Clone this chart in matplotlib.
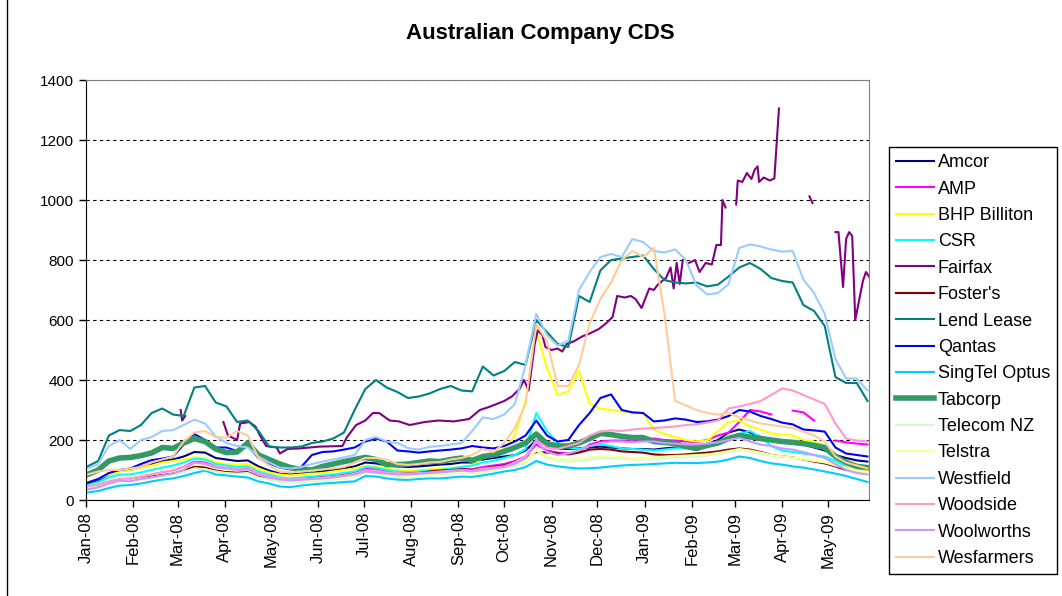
import numpy as np
import pandas as pd
import matplotlib
matplotlib.use("Agg")
import matplotlib.pyplot as plt
import matplotlib.dates as mdates
from matplotlib.lines import Line2D

plt.rcParams["font.family"] = ["Liberation Sans", "DejaVu Sans"]

nan = np.nan

# =========================
# DATA (weekly readings, bp)
# =========================
dates = pd.date_range("2008-01-02", periods=74, freq="7D")

amcor = [55, 65, 85, 98, 100, 110, 120, 130, 135, 145,
         160, 158, 140, 135, 130, 132, 112, 98, 88, 85,
         88, 92, 95, 100, 105, 112, 125, 122, 115, 112,
         110, 112, 115, 118, 120, 125, 125, 135, 140, 145,
         150, 165, 200, 180, 172, 170, 172, 175, 178, 175,
         172, 170, 170, 168, 172, 175, 178, 180, 185, 200,
         225, 235, 225, 210, 200, 195, 190, 185, 175, 165,
         150, 140, 132, 128]

amp = [40, 48, 58, 68, 70, 78, 85, 92, 98, 110,
       128, 125, 112, 105, 102, 105, 88, 78, 70, 68,
       70, 73, 77, 80, 85, 90, 105, 102, 95, 92,
       90, 92, 95, 97, 100, 105, 102, 110, 115, 120,
       130, 145, 185, 165, 158, 155, 160, 185, 195, 198,
       198, 195, 200, 205, 200, 198, 195, 193, 200, 215,
       225, 260, 300, 295, 285, nan, 298, 292, 265, nan,
       198, 192, 188, 185]

bhp = [60, 70, 85, 95, 100, 108, 115, 125, 130, 135,
       142, 140, 125, 120, 118, 120, 105, 92, 85, 82,
       85, 88, 90, 95, 100, 105, 115, 112, 105, 100,
       98, 100, 102, 105, 108, 110, 115, 140, 160, 170,
       215, 330, 565, 440, 350, 362, 430, 320, 305, 300,
       295, 292, 290, 235, 220, 210, 200, 195, 198, 230,
       260, 265, 245, 235, 222, 218, 215, 200, 195, 180,
       140, 120, 105, 100]

csr = [50, 60, 75, 85, 85, 92, 100, 108, 115, 125,
       138, 135, 120, 115, 110, 112, 95, 85, 75, 72,
       75, 78, 82, 85, 90, 95, 110, 108, 100, 95,
       92, 95, 98, 100, 105, 110, 115, 125, 130, 140,
       150, 170, 290, 230, 190, 175, 170, 180, 185, 180,
       172, 170, 168, 165, 168, 172, 175, 178, 180, 190,
       205, 220, 230, 210, 180, 165, 160, 155, 150, 145,
       130, 110, 95, 90]

fosters = [45, 50, 60, 68, 70, 75, 80, 85, 90, 100,
           112, 110, 100, 95, 92, 95, 80, 72, 68, 66,
           68, 72, 75, 78, 82, 88, 98, 95, 90, 88,
           88, 90, 95, 98, 100, 102, 100, 105, 110, 115,
           125, 140, 160, 158, 155, 152, 158, 168, 170, 168,
           162, 160, 158, 152, 150, 150, 152, 155, 158, 162,
           168, 172, 168, 160, 150, 145, 142, 135, 128, 122,
           112, 100, nan, nan]

lend_lease = [112, 130, 215, 233, 230, 250, 290, 305, 285, 280,
              375, 380, 325, 312, 260, 265, 230, 178, 175, 175,
              178, 190, 195, 205, 225, 300, 370, 400, 375, 360,
              340, 345, 355, 370, 380, 365, 362, 445, 415, 430,
              460, 450, 600, 560, 520, 510, 680, 660, 765, 800,
              805, 810, 815, 770, 733, 725, 722, 725, 712, 718,
              745, 775, 790, 770, 740, 730, 725, 650, 630, 580,
              410, 390, 390, 330]

qantas = [58, 70, 90, 100, 105, 120, 133, 138, 145, 185,
          220, 200, 175, 175, 163, 180, 140, 122, 108, 102,
          110, 150, 160, 162, 168, 175, 195, 205, 195, 165,
          162, 158, 162, 165, 168, 172, 180, 175, 172, 180,
          195, 215, 265, 215, 195, 200, 250, 290, 340, 352,
          300, 292, 290, 262, 265, 272, 268, 260, 262, 268,
          280, 300, 295, 280, 270, 258, 252, 235, 232, 228,
          175, 155, 150, 145]

singtel = [25, 30, 40, 48, 50, 55, 62, 68, 72, 80,
           90, 98, 85, 82, 78, 75, 62, 55, 45, 43,
           48, 52, 55, 57, 60, 62, 80, 78, 72, 68,
           67, 70, 72, 72, 75, 78, 77, 82, 88, 95,
           100, 110, 130, 118, 112, 108, 105, 106, 108, 112,
           115, 117, 118, 120, 122, 124, 123, 123, 125, 128,
           135, 145, 140, 130, 122, 118, 112, 108, 102, 95,
           88, 80, 70, 60]

tabcorp = [85, 100, 130, 140, 142, 148, 157, 175, 172, 190,
           205, 195, 170, 158, 160, 190, 150, 135, 120, 108,
           102, 100, 112, 120, 128, 135, 142, 135, 118, 118,
           120, 125, 130, 128, 135, 140, 132, 145, 150, 162,
           175, 190, 220, 188, 180, 180, 190, 205, 222, 218,
           212, 208, 208, 195, 192, 188, 178, 172, 182, 190,
           205, 215, 210, 205, 200, 195, 192, 188, 182, 175,
           145, 125, 112, 108]

telecom_nz = [40, 45, 55, 62, 65, 70, 75, 80, 85, 92,
              105, 102, 95, 90, 88, 90, 75, 68, 60, 58,
              60, 63, 66, 68, 72, 78, 90, 88, 82, 80,
              78, 80, 82, 85, 88, 90, 88, 92, 98, 105,
              112, 125, 165, 140, 132, 128, 130, 135, 140, 140,
              138, 136, 135, 137, 140, 142, 143, 145, 148, 152,
              160, 168, 162, 155, 148, 145, 140, 135, 130, 125,
              115, 105, 95, 88]

telstra = [45, 52, 60, 68, 72, 78, 85, 90, 95, 105,
           118, 115, 105, 100, 98, 100, 85, 75, 65, 62,
           65, 68, 70, 72, 76, 82, 95, 92, 85, 82,
           80, 82, 85, 88, 90, 93, 92, 96, 102, 110,
           118, 130, 170, 145, 138, 135, 138, 142, 146, 145,
           143, 140, 140, 142, 145, 147, 148, 150, 152, 157,
           163, 170, 165, 158, 150, 145, 142, 138, 132, 128,
           118, 108, 98, 92]

westfield = [105, 120, 180, 200, 170, 200, 210, 230, 233, 250,
             268, 255, 212, 190, 180, 175, 145, 125, 108, 105,
             110, 120, 128, 135, 142, 150, 200, 210, 195, 190,
             173, 168, 177, 180, 185, 190, 230, 275, 270, 285,
             320, 450, 620, 550, 515, 530, 700, 760, 810, 820,
             810, 870, 860, 830, 825, 835, 800, 715, 685, 690,
             720, 840, 852, 845, 835, 828, 830, 735, 690, 620,
             470, 405, 405, 365]

woodside = [45, 52, 62, 70, 72, 78, 85, 92, 98, 110,
            125, 122, 112, 108, 105, 108, 90, 80, 72, 68,
            70, 72, 75, 78, 82, 88, 100, 98, 92, 90,
            88, 90, 92, 95, 98, 100, 98, 105, 108, 112,
            125, 145, 200, 175, 170, 180, 190, 215, 228, 232,
            230, 235, 238, 240, 242, 245, 250, 252, 258, 265,
            305, 312, 320, 330, 350, 372, 365, 350, 335, 320,
            255, 205, 198, 195]

woolworths = [35, 42, 55, 65, 62, 70, 75, 82, 88, 100,
              125, 120, 108, 105, 100, 102, 85, 75, 68, 65,
              67, 70, 72, 75, 80, 85, 95, 92, 88, 85,
              85, 87, 90, 92, 95, 98, 95, 100, 105, 110,
              120, 140, 195, 160, 150, 155, 165, 180, 190, 195,
              195, 192, 195, 195, 190, 188, 185, 185, 188, 192,
              200, 207, 195, 185, 180, 172, 168, 160, 150, 140,
              120, 100, 90, 85]

wesfarmers = [85, 95, 100, 100, 105, 110, 125, 135, 145, 195,
              225, 230, 210, 208, 230, 215, 140, 115, 95, 92,
              95, 98, 102, 105, 110, 125, 140, 140, 135, 120,
              117, 120, 125, 127, 135, 140, 150, 170, 160, 190,
              240, 320, 585, 530, 380, 380, 450, 590, 670, 725,
              800, 830, 810, 840, 620, 330, 315, 300, 290, 285,
              290, 275, 265, 255, 250, 245, 240, 228, 215, 195,
              145, 125, 115, 105]

# Fairfax has its own dates (gaps + spikes)
fairfax_dates = pd.to_datetime([
    "2008-03-03", "2008-03-04", "2008-03-06", "2008-03-18", "2008-03-31",
    "2008-04-03", "2008-04-07", "2008-04-09", "2008-04-11", "2008-04-17",
    "2008-04-21", "2008-04-24", "2008-04-28", "2008-05-05", "2008-05-07",
    "2008-05-12", "2008-05-20", "2008-06-02", "2008-06-17", "2008-06-20",
    "2008-06-26", "2008-07-02", "2008-07-07", "2008-07-11", "2008-07-18",
    "2008-07-24", "2008-07-31", "2008-08-10", "2008-08-19", "2008-08-29",
    "2008-09-08", "2008-09-15", "2008-09-21", "2008-09-26", "2008-10-01",
    "2008-10-06", "2008-10-11", "2008-10-14", "2008-10-17", "2008-10-21",
    "2008-10-23", "2008-10-26", "2008-10-28", "2008-11-01", "2008-11-05",
    "2008-11-08", "2008-11-11", "2008-11-16", "2008-11-21", "2008-11-26",
    "2008-12-02", "2008-12-07", "2008-12-11", "2008-12-14", "2008-12-19",
    "2008-12-23", "2008-12-26", "2008-12-30", "2009-01-04", "2009-01-07",
    "2009-01-10", "2009-01-15", "2009-01-18", "2009-01-20", "2009-01-22",
    "2009-01-24", "2009-01-26", "2009-01-28", "2009-01-30", "2009-02-03",
    "2009-02-06", "2009-02-10", "2009-02-14", "2009-02-17", "2009-02-20",
    "2009-02-21", "2009-02-23", "2009-02-26", "2009-03-02", "2009-03-03",
    "2009-03-06", "2009-03-09", "2009-03-12", "2009-03-14", "2009-03-16",
    "2009-03-17", "2009-03-20", "2009-03-24", "2009-03-27", "2009-03-30",
    "2009-04-08", "2009-04-19", "2009-04-21", "2009-04-28", "2009-05-06",
    "2009-05-08", "2009-05-11", "2009-05-13", "2009-05-15", "2009-05-17",
    "2009-05-19", "2009-05-24", "2009-05-26", "2009-05-28"])
fairfax = [300, 265, 280, nan, 260,
           215, 205, 200, 255, 260,
           245, 215, 180, 175, 155,
           170, 172, 178, 180, 210,
           250, 265, 290, 290, 265,
           262, 250, 260, 265, 262,
           270, 300, 310, 320, 330,
           345, 370, 400, 365, 520,
           565, 550, 510, 500, 505,
           495, 520, 530, 545, 555,
           570, 590, 610, 680, 675,
           680, 670, 640, 705, 700,
           720, 740, 775, 705, 790,
           720, 800, nan, 790, 800,
           760, 790, 785, 850, 850,
           1000, 975, nan, 985, 1065,
           1060, 1090, 1070, 1100, 1112,
           1060, 1075, 1065, 1072, 1305,
           nan, 1012, 990, nan, 893,
           893, 710, 870, 893, 880,
           600, 730, 760, 745]

names = ["Amcor", "AMP", "BHP Billiton", "CSR", "Fairfax", "Foster's",
         "Lend Lease", "Qantas", "SingTel Optus", "Tabcorp", "Telecom NZ",
         "Telstra", "Westfield", "Woodside", "Woolworths", "Wesfarmers"]
values = [amcor, amp, bhp, csr, fairfax, fosters, lend_lease, qantas,
          singtel, tabcorp, telecom_nz, telstra, westfield, woodside,
          woolworths, wesfarmers]
colors = ["#000080", "#FF00FF", "#FFFF00", "#00FFFF", "#800080", "#800000",
          "#008080", "#0000FF", "#00CCFF", "#339966", "#CCFFCC", "#FFFF99",
          "#99CCFF", "#FF99CC", "#CC99FF", "#FFCC99"]

# =========================
# PLOT
# =========================
fig = plt.figure(figsize=(10.62, 5.96), dpi=100)
ax = fig.add_axes([86 / 1062, 1 - 500 / 596, (869 - 86) / 1062, 420 / 596])

for name, vals, col in zip(names, values, colors):
    x = fairfax_dates if name == "Fairfax" else dates
    lw = 4.0 if name == "Tabcorp" else 1.5
    ax.plot(x, vals, color=col, lw=lw, label=name)

ax.set_ylim(0, 1400)
ax.set_yticks(range(0, 1401, 200))
ax.set_xlim(pd.Timestamp("2008-01-01"), pd.Timestamp("2009-05-28"))
ax.xaxis.set_major_locator(mdates.MonthLocator())
ax.xaxis.set_major_formatter(mdates.DateFormatter("%b-%y"))
ax.tick_params(axis="x", labelrotation=90, labelsize=12, length=5, width=1)
ax.tick_params(axis="y", labelsize=11, length=5, width=1)

ax.set_axisbelow(True)
ax.yaxis.grid(True, color="black", linestyle=(0, (3, 3)), linewidth=0.8)

for s in ["left", "bottom"]:
    ax.spines[s].set_color("black")
for s in ["top", "right"]:
    ax.spines[s].set_color("#808080")

fig.text(540 / 1062, 1 - 33 / 596, "Australian Company CDS",
         ha="center", va="center", fontsize=16, fontweight="bold")

fig.legend(loc="upper left", bbox_to_anchor=(889 / 1062, 1 - 147 / 596),
           fontsize=13, frameon=True, fancybox=False, edgecolor="black",
           framealpha=1, labelspacing=0.52, handlelength=2.1,
           handletextpad=0.2, borderpad=0.4, borderaxespad=0)

# chart-area border on the left edge
fig.add_artist(Line2D([7 / 1062, 7 / 1062], [0, 1], color="black", lw=1,
                      transform=fig.transFigure))

fig.savefig("out.png", dpi=100)
